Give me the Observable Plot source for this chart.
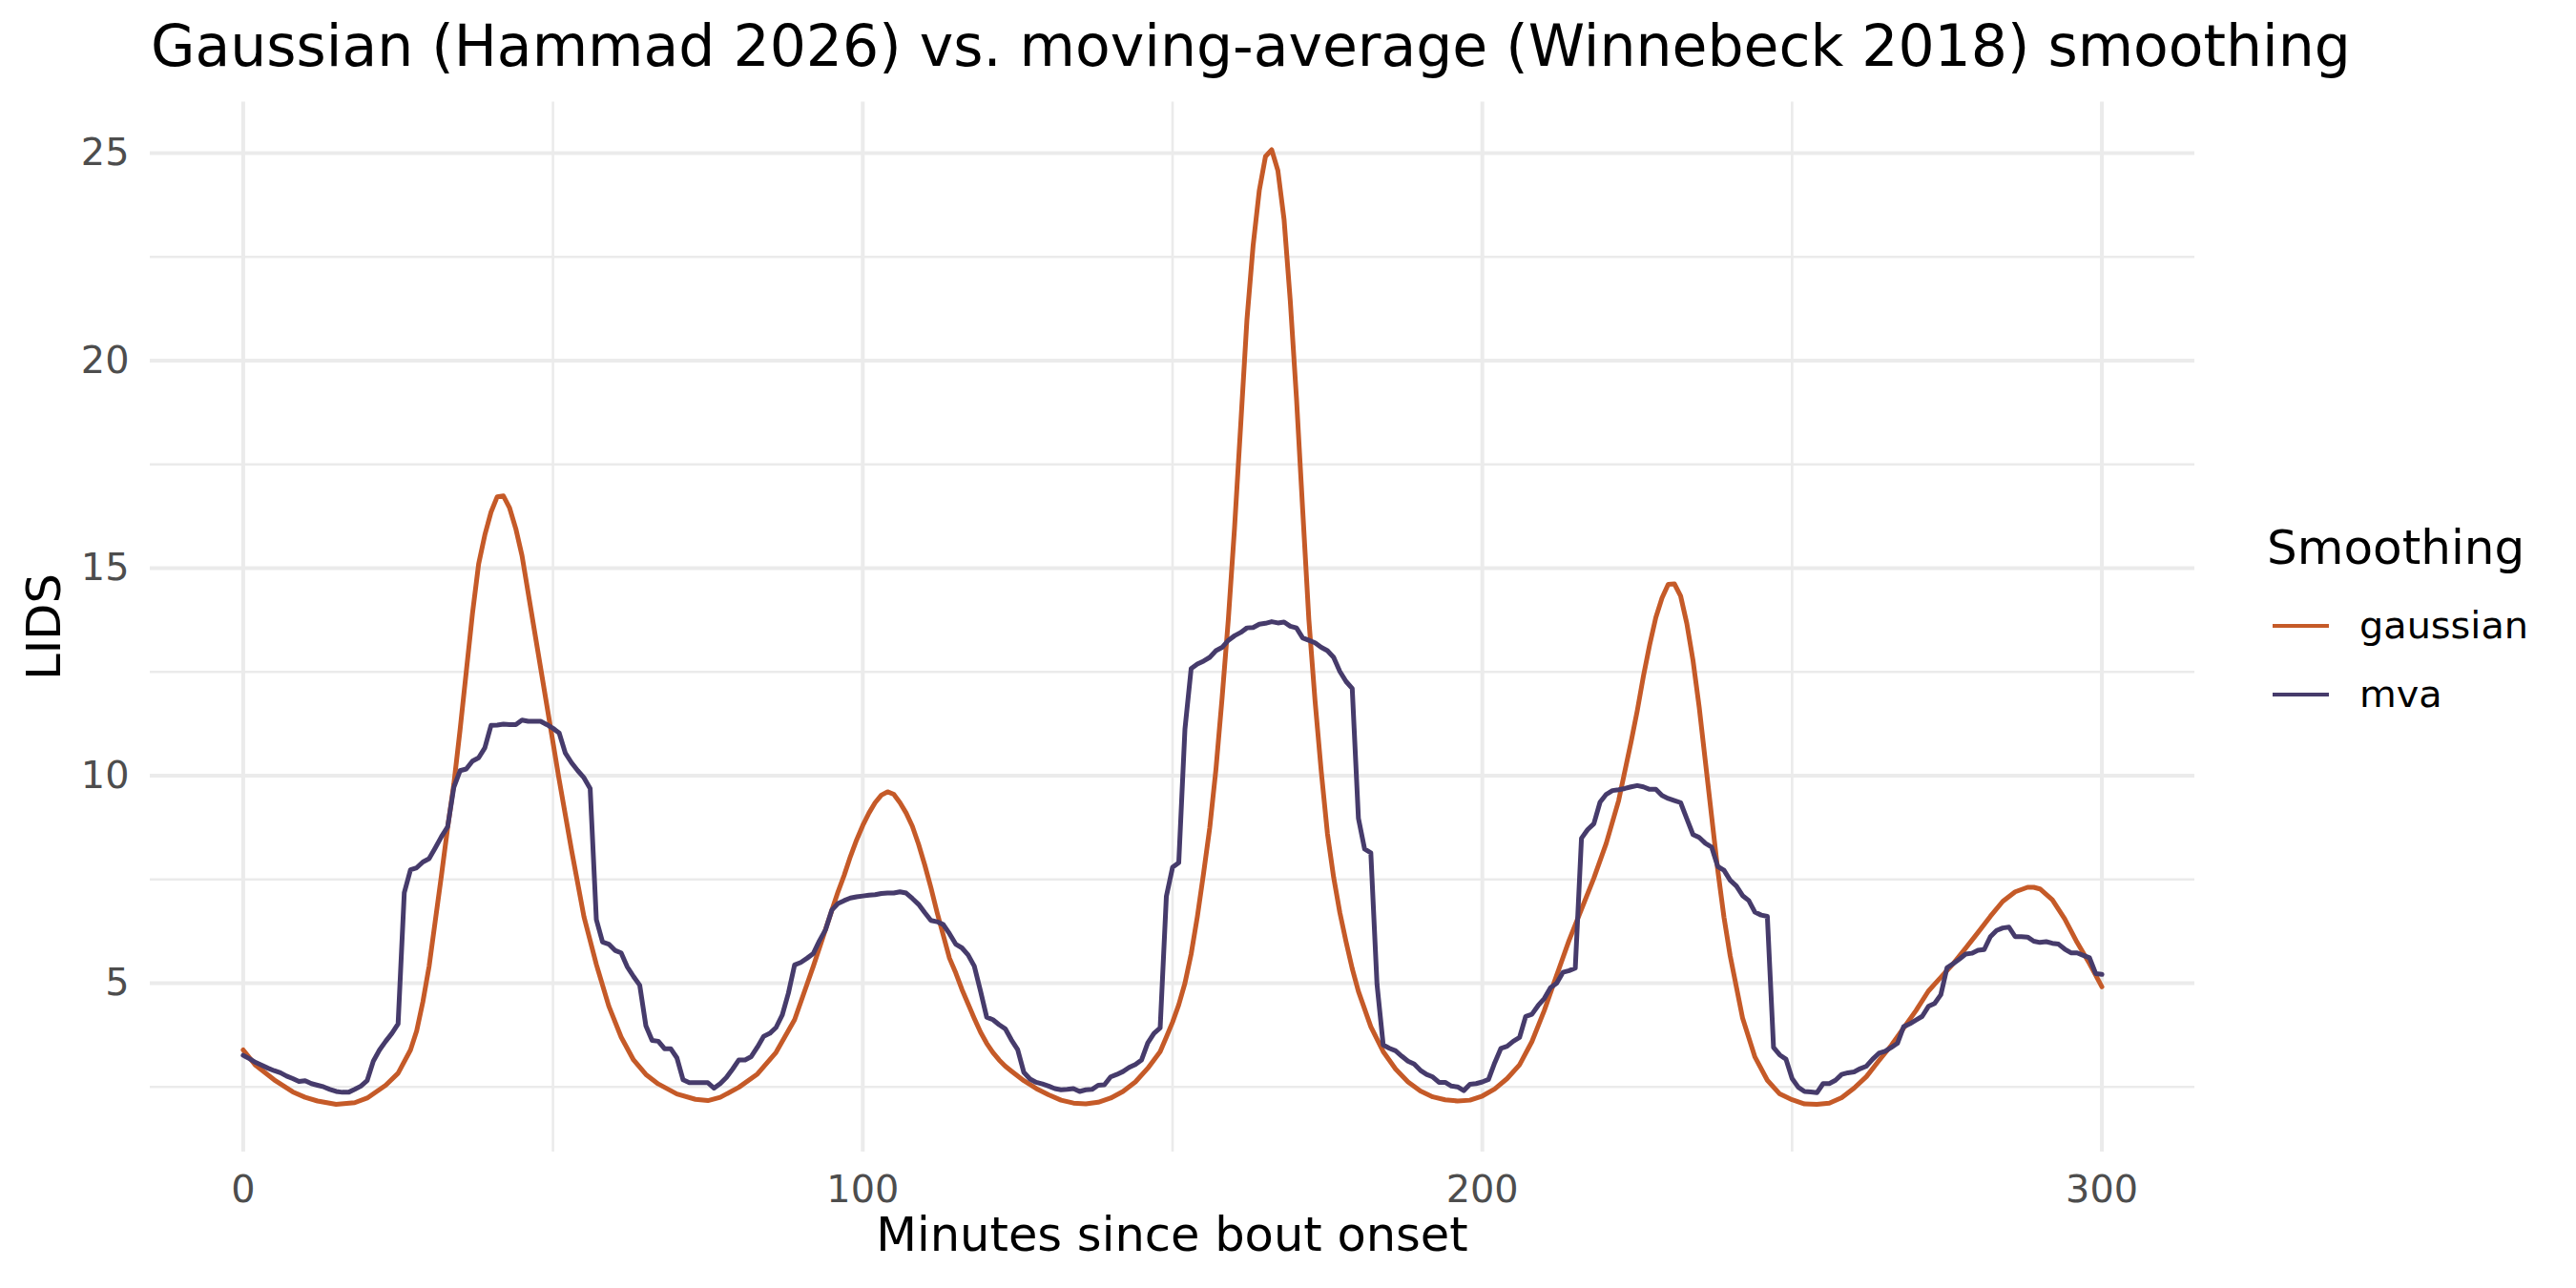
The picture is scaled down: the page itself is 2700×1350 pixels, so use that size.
<!DOCTYPE html>
<html>
<head>
<meta charset="utf-8">
<script src="https://cdn.jsdelivr.net/npm/d3@7"></script>
<script src="https://cdn.jsdelivr.net/npm/@observablehq/plot@0.6"></script>
<style>
  html, body { margin: 0; padding: 0; background: #ffffff; }
  body { width: 2700px; height: 1350px; position: relative; overflow: hidden; font-family: "DejaVu Sans", sans-serif; }
  .abs { position: absolute; white-space: nowrap; line-height: 1; }
  #title { left: 158px; top: 18px; font-size: 60px; color: #000; }
  #xtitle { left: 1228.5px; top: 1270px; font-size: 49.5px; color: #000; transform: translateX(-50%); }
  #ytitle { left: 47px; top: 657px; font-size: 49.5px; color: #000; transform: translate(-50%, -50%) rotate(-90deg); }
  #chart { position: absolute; left: 80px; top: 95px; }
  #legend-title { left: 2376px; top: 549px; font-size: 50px; color: #000; }
  .key { position: absolute; width: 59px; height: 4.8px; left: 2382px; }
  .lab { font-size: 39.8px; color: #000; left: 2473px; }
</style>
</head>
<body>
<div id="title" class="abs">Gaussian (Hammad 2026) vs. moving-average (Winnebeck 2018) smoothing</div>
<div id="chart"></div>
<div id="xtitle" class="abs">Minutes since bout onset</div>
<div id="ytitle" class="abs">LIDS</div>
<div id="legend"></div>
<script>
// ---- data ----
const seriesNames = ["gaussian", "mva"];
const seriesColors = ["#C55A28", "#463B6B"];

const majorX = [0, 100, 200, 300];
const minorX = [50, 150, 250];
const majorY = [5, 10, 15, 20, 25];
const minorY = [2.5, 7.5, 12.5, 17.5, 22.5];

const gaussMinutes = [0,2,5,8,10,12,15,18,20,23,25,27,28,29,30,31,32,33,34,35,36,37,38,39,40,41,42,43,44,45,47,49,51,53,55,57,59,61,63,65,67,70,73,75,77,80,83,86,89,92,95,96,97,98,99,100,101,102,103,104,105,106,107,108,109,110,111,112,113,114,115,116,117,118,119,120,121,122,123,124,126,128,130,132,134,136,138,140,142,144,146,148,149,150,151,152,153,154,155,156,157,158,159,160,161,162,163,164,165,166,167,168,169,170,171,172,173,174,175,176,177,178,179,180,182,184,186,188,190,192,194,196,198,200,202,204,206,208,210,212,214,216,218,220,222,224,225,226,227,228,229,230,231,232,233,234,235,236,237,238,239,240,242,244,246,248,250,252,254,256,258,260,262,264,266,268,270,272,274,276,278,280,282,284,286,288,289,290,292,294,296,298,300];
const gaussValues = [3.39,3.02,2.67,2.38,2.25,2.16,2.08,2.12,2.23,2.54,2.83,3.39,3.85,4.55,5.4,6.5,7.6,8.75,9.8,11.1,12.5,13.9,15.1,15.8,16.35,16.72,16.74,16.45,15.95,15.3,13.5,11.7,9.9,8.2,6.6,5.45,4.45,3.7,3.15,2.8,2.57,2.33,2.2,2.17,2.25,2.49,2.81,3.33,4.12,5.4,6.75,7.2,7.6,8.05,8.45,8.8,9.1,9.35,9.53,9.61,9.55,9.35,9.1,8.78,8.35,7.85,7.3,6.7,6.15,5.6,5.25,4.85,4.5,4.15,3.82,3.55,3.33,3.15,3.0,2.88,2.65,2.46,2.31,2.18,2.11,2.09,2.13,2.23,2.39,2.62,2.95,3.35,3.7,4.06,4.48,5.0,5.7,6.6,7.64,8.74,10.15,11.88,13.76,15.96,18.45,20.97,22.77,24.1,24.92,25.08,24.58,23.4,21.44,19.1,16.41,13.76,11.8,10.1,8.6,7.55,6.7,6.0,5.35,4.8,3.95,3.35,2.93,2.62,2.4,2.26,2.19,2.16,2.18,2.28,2.45,2.7,3.03,3.59,4.34,5.19,6.03,6.78,7.53,8.37,9.4,10.81,11.56,12.4,13.15,13.81,14.28,14.61,14.62,14.33,13.67,12.78,11.65,10.34,9.03,7.72,6.59,5.66,4.16,3.22,2.66,2.33,2.19,2.09,2.08,2.11,2.24,2.47,2.75,3.13,3.5,3.92,4.34,4.81,5.14,5.47,5.84,6.22,6.61,6.97,7.2,7.31,7.31,7.27,7.01,6.55,5.98,5.47,4.91];

// mva: one value per minute, minutes 0..300
const mvaValues = [
3.26,3.18,3.09,3.02,2.95,2.89,2.84,2.76,2.70,2.63,
2.65,2.58,2.54,2.50,2.44,2.39,2.37,2.37,2.44,2.52,
2.65,3.12,3.39,3.60,3.79,4.02,7.18,7.73,7.78,7.92,
8.00,8.26,8.53,8.77,9.72,10.12,10.16,10.35,10.43,10.67,
11.21,11.22,11.24,11.23,11.23,11.34,11.31,11.31,11.31,11.23,
11.14,11.03,10.54,10.31,10.12,9.95,9.69,6.53,5.99,5.94,
5.79,5.73,5.39,5.16,4.95,3.97,3.62,3.60,3.42,3.42,
3.20,2.67,2.60,2.60,2.60,2.60,2.47,2.58,2.73,2.93,
3.15,3.15,3.23,3.46,3.72,3.79,3.93,4.23,4.76,5.44,
5.50,5.60,5.71,6.02,6.29,6.76,6.92,6.99,7.05,7.08,
7.10,7.12,7.13,7.16,7.17,7.17,7.20,7.17,7.04,6.90,
6.70,6.51,6.48,6.41,6.19,5.94,5.85,5.68,5.41,4.81,
4.18,4.12,4.00,3.90,3.63,3.40,2.85,2.69,2.61,2.57,
2.52,2.46,2.43,2.44,2.46,2.39,2.43,2.44,2.54,2.55,
2.74,2.80,2.87,2.97,3.04,3.15,3.56,3.79,3.92,7.09,
7.79,7.90,11.12,12.58,12.69,12.76,12.85,13.01,13.09,13.26,
13.37,13.45,13.56,13.57,13.65,13.67,13.71,13.68,13.70,13.60,
13.56,13.32,13.26,13.20,13.09,13.01,12.85,12.51,12.27,12.10,
8.97,8.23,8.14,4.97,3.51,3.43,3.37,3.24,3.12,3.05,
2.90,2.80,2.74,2.61,2.61,2.52,2.50,2.41,2.56,2.58,
2.62,2.68,3.08,3.43,3.48,3.60,3.69,4.20,4.25,4.46,
4.63,4.89,5.00,5.26,5.30,5.36,8.49,8.70,8.84,9.36,
9.55,9.64,9.66,9.69,9.73,9.76,9.73,9.67,9.67,9.52,
9.45,9.40,9.35,8.96,8.58,8.51,8.37,8.28,7.81,7.72,
7.48,7.34,7.11,6.99,6.71,6.64,6.61,3.45,3.27,3.17,
2.70,2.49,2.39,2.38,2.36,2.58,2.58,2.66,2.80,2.84,
2.86,2.94,3.00,3.17,3.31,3.36,3.45,3.55,3.95,4.02,
4.11,4.20,4.44,4.51,4.72,5.37,5.47,5.58,5.70,5.72,
5.79,5.81,6.12,6.27,6.33,6.35,6.12,6.12,6.11,6.01,
5.98,6.00,5.96,5.94,5.82,5.73,5.73,5.67,5.61,5.23,
5.21];

// ---- build rows ----
const rows = [];
gaussMinutes.forEach((m, i) => rows.push({minute: m, lids: gaussValues[i], smoothing: "gaussian"}));
mvaValues.forEach((v, i) => rows.push({minute: i, lids: v, smoothing: "mva"}));

const grid = "#EBEBEB";
const chart = Plot.plot({
  width: 2250,
  height: 1177,
  marginLeft: 77,
  marginRight: 30,
  marginTop: 11.5,
  marginBottom: 65,
  x: {domain: [-15, 315]},
  y: {domain: [0.93, 26.23]},
  color: {domain: seriesNames, range: seriesColors},
  style: {fontFamily: "DejaVu Sans", fontSize: "39.8px", color: "#4D4D4D", background: "transparent", overflow: "visible"},
  marks: [
    Plot.ruleX(minorX, {stroke: grid, strokeWidth: 2.6}),
    Plot.ruleY(minorY, {stroke: grid, strokeWidth: 2.6}),
    Plot.ruleX(majorX, {stroke: grid, strokeWidth: 4}),
    Plot.ruleY(majorY, {stroke: grid, strokeWidth: 4}),
    Plot.axisX({ticks: majorX, tickSize: 0, tickPadding: 24, label: null, fill: "#4D4D4D"}),
    Plot.axisY({ticks: majorY, tickSize: 0, tickPadding: 22, label: null, fill: "#4D4D4D"}),
    Plot.line(rows, {x: "minute", y: "lids", z: "smoothing", stroke: "smoothing", strokeWidth: 5})
  ]
});
document.getElementById("chart").appendChild(chart);

// ---- legend ----
const legend = document.getElementById("legend");
const lt = document.createElement("div");
lt.className = "abs"; lt.id = "legend-title"; lt.textContent = "Smoothing";
legend.appendChild(lt);
const keyY = [656, 728];
seriesNames.forEach((name, i) => {
  const k = document.createElement("div");
  k.className = "key";
  k.style.top = (keyY[i] - 2.4) + "px";
  k.style.background = seriesColors[i];
  legend.appendChild(k);
  const l = document.createElement("div");
  l.className = "abs lab";
  l.style.top = (keyY[i] - 19.7) + "px";
  l.textContent = name;
  legend.appendChild(l);
});
</script>
</body>
</html>
